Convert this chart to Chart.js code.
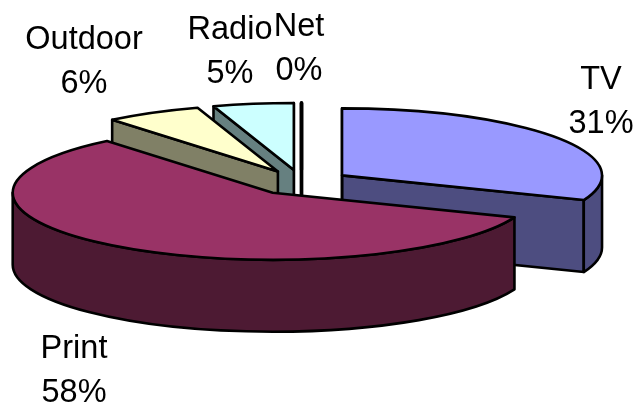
<!DOCTYPE html>
<html>
<head>
<meta charset="utf-8">
<script src="https://cdn.jsdelivr.net/npm/chart.js@4/dist/chart.umd.js"></script>
<style>
    body { margin: 0; background: #fff; }
    canvas { display: block; }
</style>
</head>
<body>
<canvas id="chartMedia" width="637" height="406"></canvas>
<script>
const categories = ['TV', 'Print', 'Outdoor', 'Radio', 'Net'];
const shares = [31, 58, 6, 5, 0];

const topColors = ['#9999ff', '#993366', '#ffffcc', '#ccffff', '#660066'];
const wallColors = ['#4d4d80', '#4d1a33', '#808066', '#668080', '#330033'];
const lineWidths = [2.6, 2.6, 2.6, 2.6, 3.4];

// center of each label's two lines, first baseline
const labelSpots = [[601, 89], [74, 358], [84, 49], [230, 39], [299, 36]];
const lineGap = 44;

const tilt = 67 / 260;   // how flat the disc is drawn
const depth = 72;
const explode = 49;

// pie that keeps the normal arc layout but paints a flattened extruded disc
class Pie3D extends Chart.PieController {
    draw() {
        const ctx = this.chart.ctx;
        const arcs = this.getMeta().data.map(arc => {
            const mid = (arc.startAngle + arc.endAngle) / 2;
            return {
                arc,
                cx: arc.x + Math.cos(mid) * explode,
                cy: arc.y + Math.sin(mid) * explode * tilt
            };
        });
        // back slices first
        arcs.sort((a, b) => a.cy - b.cy);
        arcs.forEach(s => this.drawSlice(ctx, s));
    }

    drawSlice(ctx, {arc, cx, cy}) {
        const r = arc.outerRadius;
        const a0 = arc.startAngle;
        const a1 = arc.endAngle;
        const eps = 1e-6;

        ctx.save();
        ctx.lineWidth = arc.options.borderWidth;
        ctx.strokeStyle = '#000';
        ctx.lineJoin = 'round';

        const side = a => {
            const px = cx + Math.cos(a) * r;
            const py = cy + Math.sin(a) * r * tilt;
            ctx.beginPath();
            ctx.moveTo(cx, cy);
            ctx.lineTo(px, py);
            ctx.lineTo(px, py + depth);
            ctx.lineTo(cx, cy + depth);
            ctx.closePath();
            ctx.fillStyle = wallColors[arc.$context.dataIndex];
            ctx.fill();
            ctx.stroke();
        };

        // only walls facing the viewer
        if (Math.cos(a1) > -eps) side(a1);
        if (Math.cos(a0) < eps) side(a0);

        // rim wall, front half of the disc only
        const from = Math.max(a0, 0);
        const to = Math.min(a1, Math.PI);
        if (to > from) {
            ctx.beginPath();
            ctx.ellipse(cx, cy, r, r * tilt, 0, from, to);
            ctx.ellipse(cx, cy + depth, r, r * tilt, 0, to, from, true);
            ctx.closePath();
            ctx.fillStyle = wallColors[arc.$context.dataIndex];
            ctx.fill();
            ctx.stroke();
        }

        // top face
        ctx.beginPath();
        ctx.moveTo(cx, cy);
        ctx.ellipse(cx, cy, r, r * tilt, 0, a0, a1);
        ctx.closePath();
        ctx.fillStyle = arc.options.backgroundColor;
        ctx.fill();
        ctx.stroke();
        ctx.restore();
    }
}
Pie3D.id = 'pie3d';
Pie3D.defaults = Chart.PieController.defaults;
Chart.register(Pie3D);

const sliceLabels = {
    id: 'sliceLabels',
    afterDatasetsDraw(chart) {
        const ctx = chart.ctx;
        ctx.save();
        ctx.font = '32.5px "Liberation Sans", Arial, sans-serif';
        ctx.fillStyle = '#000';
        ctx.textAlign = 'center';
        categories.forEach((name, i) => {
            const [x, y] = labelSpots[i];
            ctx.fillText(name, x, y);
            ctx.fillText(shares[i] + '%', x, y + lineGap);
        });
        ctx.restore();
    }
};

new Chart(document.getElementById('chartMedia').getContext('2d'), {
    type: 'pie3d',
    data: {
        labels: categories,
        datasets: [{
            data: shares,
            backgroundColor: topColors,
            borderWidth: lineWidths
        }]
    },
    options: {
        responsive: false,
        animation: false,
        radius: 260,
        layout: { padding: { right: 34, bottom: 41 } },
        plugins: { legend: { display: false }, tooltip: { enabled: false } }
    },
    plugins: [sliceLabels]
});
</script>
</body>
</html>
